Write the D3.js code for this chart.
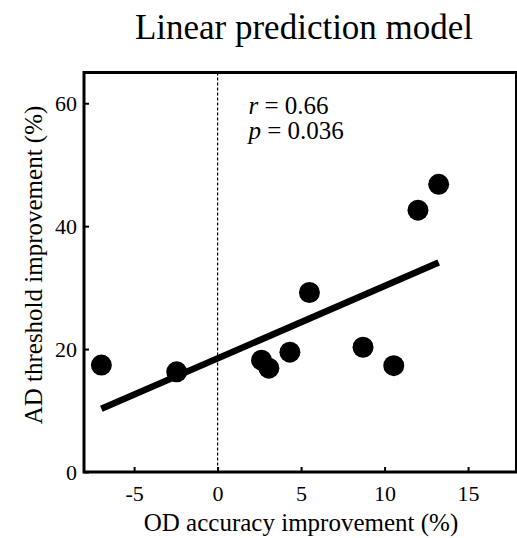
<!DOCTYPE html>
<html>
<head>
<meta charset="utf-8">
<script src="https://cdn.jsdelivr.net/npm/d3@7"></script>
<style>
  body { margin: 0; background: #fff; }
</style>
</head>
<body>
<div id="chart"></div>
<script>
// data
const odAccuracy = [-6.96, -2.45, 2.63, 3.07, 4.33, 5.5, 8.71, 10.55, 12.0, 13.24];
const adThreshold = [17.4, 16.3, 18.2, 16.9, 19.5, 29.2, 20.3, 17.3, 42.6, 46.8];
const xTicks = [-5, 0, 5, 10, 15];
const yTicks = [0, 20, 40, 60];
const statLines = [["r", " = 0.66"], ["p", " = 0.036"]];

const serif = "'Liberation Serif', 'Times New Roman', Times, serif";
const width = 517, height = 538;
const margin = { top: 72.5, right: 0.5, bottom: 66, left: 84 };

const svg = d3.select("#chart").append("svg")
    .attr("width", width)
    .attr("height", height)
    .style("font-family", serif);

const x = d3.scaleLinear().domain([-8, 17.9]).range([margin.left, width - margin.right]);
const y = d3.scaleLinear().domain([0, 65]).range([height - margin.bottom, margin.top]);

// least squares fit
const mx = d3.mean(odAccuracy), my = d3.mean(adThreshold);
let sxy = 0, sxx = 0;
odAccuracy.forEach((v, i) => {
    sxy += (v - mx) * (adThreshold[i] - my);
    sxx += (v - mx) * (v - mx);
});
const slope = sxy / sxx;
const intercept = my - slope * mx;
const fitX = d3.extent(odAccuracy);

// dashed zero line
svg.append("line")
    .attr("x1", x(0)).attr("x2", x(0))
    .attr("y1", y(65)).attr("y2", y(0))
    .attr("stroke", "#000")
    .attr("stroke-width", 1.2)
    .attr("stroke-dasharray", "3,2");

// regression line
svg.append("line")
    .attr("x1", x(fitX[0])).attr("y1", y(intercept + slope * fitX[0]))
    .attr("x2", x(fitX[1])).attr("y2", y(intercept + slope * fitX[1]))
    .attr("stroke", "#000")
    .attr("stroke-width", 6.5);

// points
svg.append("g").selectAll("circle")
    .data(odAccuracy.map((v, i) => [v, adThreshold[i]]))
    .join("circle")
    .attr("cx", d => x(d[0]))
    .attr("cy", d => y(d[1]))
    .attr("r", 10.5)
    .attr("fill", "#000");

// axes (ticks inward)
const xAxis = svg.append("g")
    .attr("transform", `translate(0,${y(0)})`)
    .call(d3.axisBottom(x).tickValues(xTicks).tickSize(-5).tickPadding(13).tickFormat(d3.format("d")));
const yAxis = svg.append("g")
    .attr("transform", `translate(${x(-8)},0)`)
    .call(d3.axisLeft(y).tickValues(yTicks).tickSize(-5).tickPadding(7));

[xAxis, yAxis].forEach(g => {
    g.attr("font-family", serif).attr("font-size", 22);
    g.select(".domain").remove();
    g.selectAll(".tick line").attr("stroke", "#000").attr("stroke-width", 2);
    g.selectAll(".tick text").attr("fill", "#000").style("font-family", serif);
});
xAxis.selectAll(".tick text").text(d => d < 0 ? "-" + Math.abs(d) : d);

// frame
svg.append("rect")
    .attr("x", x(-8)).attr("y", y(65))
    .attr("width", x(17.9) - x(-8))
    .attr("height", y(0) - y(65))
    .attr("fill", "none")
    .attr("stroke", "#000")
    .attr("stroke-width", 3);

// stats text
const stat = svg.append("g").selectAll("text")
    .data(statLines)
    .join("text")
    .attr("x", x(1.85))
    .attr("y", (d, i) => y(58.2) + i * 25)
    .attr("font-size", 25)
    .style("font-family", serif);
stat.append("tspan").attr("font-style", "italic").text(d => d[0]);
stat.append("tspan").text(d => d[1]);

// titles
svg.append("text")
    .attr("x", 304).attr("y", 39)
    .attr("text-anchor", "middle")
    .attr("font-size", 35)
    .style("font-family", serif)
    .text("Linear prediction model");

svg.append("text")
    .attr("x", 301).attr("y", 531)
    .attr("text-anchor", "middle")
    .attr("font-size", 25)
    .style("font-family", serif)
    .text("OD accuracy improvement (%)");

svg.append("text")
    .attr("transform", `translate(42,265) rotate(-90)`)
    .attr("text-anchor", "middle")
    .attr("font-size", 25)
    .style("font-family", serif)
    .text("AD threshold improvement (%)");
</script>
</body>
</html>
